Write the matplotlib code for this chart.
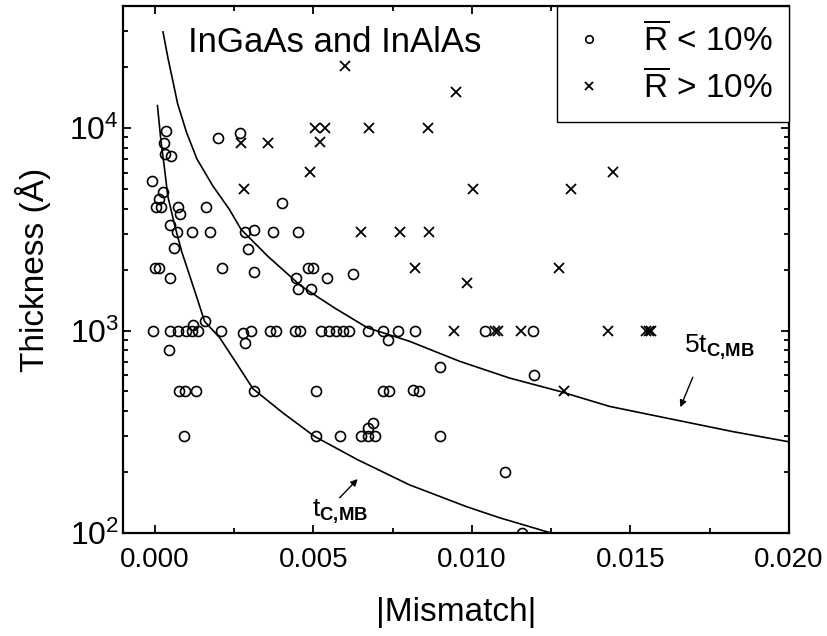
import numpy as np
import matplotlib
matplotlib.use('Agg')
import matplotlib.pyplot as plt
from matplotlib.ticker import MultipleLocator, FixedLocator, FormatStrFormatter

plt.rcParams['font.family'] = ['Liberation Sans', 'DejaVu Sans']
plt.rcParams['mathtext.fontset'] = 'custom'
plt.rcParams['mathtext.rm'] = 'Liberation Sans'
plt.rcParams['mathtext.it'] = 'Liberation Sans:italic'
plt.rcParams['mathtext.bf'] = 'Liberation Sans:bold'

# R < 10% samples (open circles)
low_x = [0.00037, 0.00028, 0.00032, 0.0005, 0.0020, 0.00268,
         -0.0001, 0.00026, 0.00014, 0.00005, 0.00021, 0.00074, 0.00081, 0.00163, 0.00047, 0.0040,
         0.0007, 0.00118, 0.00174, 0.00284, 0.00372, 0.00453, 0.00314,
         0.0006, 0.00295,
         0.0, 0.00014, 0.00213, 0.00482, 0.00498,
         0.00312, 0.00047, 0.00445, 0.00543, 0.00624, 0.00453, 0.00492,
         0.00157, 0.0012,
         -0.00005, 0.00047, 0.00073, 0.00098, 0.00117, 0.00135, 0.0021, 0.00305, 0.00362, 0.00382,
         0.00441, 0.00457, 0.00525, 0.00551, 0.00572, 0.00593, 0.00614, 0.00672, 0.0072, 0.00768,
         0.00822, 0.0104, 0.01192,
         0.00277, 0.00284, 0.00045, 0.00735,
         0.00078, 0.00094, 0.0013, 0.00314, 0.00508, 0.00721, 0.00739, 0.00814, 0.00833,
         0.00898, 0.01197,
         0.00091, 0.00508, 0.00585, 0.0065, 0.00671, 0.00694, 0.00898,
         0.00671, 0.00687, 0.01106, 0.01158]
low_y = [9700, 8400, 7400, 7300, 8900, 9400,
         5450, 4850, 4450, 4050, 4050, 4050, 3750, 4050, 3300, 4250,
         3050, 3050, 3050, 3050, 3050, 3050, 3140,
         2550, 2520,
         2040, 2040, 2040, 2040, 2040,
         1940, 1820, 1820, 1820, 1910, 1610, 1610,
         1110, 1060,
         1000, 1000, 1000, 1000, 1000, 1000, 1000, 1000, 1000, 1000,
         1000, 1000, 1000, 1000, 1000, 1000, 1000, 1000, 1000, 1000,
         1000, 1000, 1000,
         970, 870, 800, 900,
         500, 500, 500, 500, 500, 500, 500, 510, 500,
         660, 600,
         300, 300, 300, 300, 300, 300, 300,
         330, 350, 200, 100]

# R > 10% samples (crosses)
high_x = [0.00599, 0.0095, 0.00504, 0.00536, 0.00677, 0.00861, 0.00522,
          0.00273, 0.00357, 0.0049, 0.01444, 0.0028, 0.01005, 0.01313,
          0.00651, 0.00774, 0.00866, 0.00822, 0.01274, 0.00985,
          0.00945, 0.01072, 0.01082, 0.01155, 0.0143, 0.0155, 0.01558, 0.01565,
          0.01289]
high_y = [20300, 15000, 10000, 10000, 10000, 10000, 8550,
          8400, 8400, 6050, 6050, 5000, 5000, 5000,
          3050, 3050, 3050, 2040, 2040, 1720,
          1000, 1000, 1000, 1000, 1000, 1000, 1000, 1000,
          500]

# critical thickness curves
tc_x = [0.000085, 0.0002, 0.00031, 0.00041, 0.00062, 0.00085, 0.00109, 0.00135, 0.00157, 0.00205,
        0.00257, 0.0031, 0.00404, 0.00504, 0.0064, 0.00803, 0.00983, 0.01087, 0.0125]
tc_y = [12900, 8490, 6270, 4620, 3350, 2450, 1890, 1420, 1110, 920,
        692, 515, 392, 300, 230, 173, 135, 119, 100]
tc5_x = [0.00026, 0.00042, 0.00058, 0.00072, 0.001, 0.00133, 0.00183, 0.00235, 0.00272, 0.00356,
         0.00461, 0.00566, 0.00671, 0.00803, 0.00961, 0.01118, 0.01276, 0.01434, 0.01612,
         0.01822, 0.01995]
tc5_y = [29800, 22000, 16800, 13200, 9530, 7030, 5180, 3970, 3160, 2330,
         1660, 1295, 1031, 885, 705, 583, 501, 422, 370,
         317, 283]

fig = plt.figure(figsize=(8.28, 6.36), dpi=100)
ax = fig.add_axes([0.1486, 0.1619, 0.8043, 0.8286])

ax.plot(tc_x, tc_y, color='k', lw=1.2)
ax.plot(tc5_x, tc5_y, color='k', lw=1.2)
ax.plot(low_x, low_y, ls='none', marker='o', ms=7.2, mfc='none', mec='k', mew=1.2,
        label=r'$\overline{\mathrm{R}}$ < 10%')
ax.plot(high_x, high_y, ls='none', marker='x', ms=7.5, mec='k', mew=1.3,
        label=r'$\overline{\mathrm{R}}$ > 10%')

ax.set_yscale('log')
ax.set_xlim(-0.001, 0.020)
ax.set_ylim(100, 40000)
ax.xaxis.set_major_locator(MultipleLocator(0.005))
ax.xaxis.set_minor_locator(MultipleLocator(0.0025))
ax.xaxis.set_major_formatter(FormatStrFormatter('%.3f'))
ax.yaxis.set_major_locator(FixedLocator([100, 1000, 10000]))

ax.tick_params(which='both', direction='in', top=True, right=True, width=1.3)
ax.tick_params(which='major', length=6)
ax.tick_params(axis='x', which='major', pad=10, labelsize=20)
ax.tick_params(axis='y', which='major', pad=3, labelsize=23)
ax.tick_params(which='minor', length=3.5)
for s in ax.spines.values():
    s.set_linewidth(1.6)

ax.set_xlabel('|Mismatch|', fontsize=24, labelpad=17)
ax.set_ylabel('Thickness (Å)', fontsize=24, labelpad=13)

ax.text(0.0976, 0.913, 'InGaAs and InAlAs', transform=ax.transAxes, fontsize=25, va='baseline')

leg = ax.legend(loc='upper right', borderaxespad=0, fontsize=24, markerscale=0.75,
                fancybox=False, edgecolor='k', framealpha=1, handlelength=0.92,
                handletextpad=1.15, labelspacing=0.35, borderpad=0.5)
leg.get_frame().set_linewidth(1.0)

ax.annotate('', xy=(0.01654, 406), xytext=(0.0170, 605),
            arrowprops=dict(arrowstyle='-|>', color='k', lw=1.0, mutation_scale=10))
ax.text(0.0167, 778, r'5t$_{\mathbf{C{,}MB}}$', fontsize=19, va='baseline')
ax.annotate('', xy=(0.00646, 189), xytext=(0.00577, 146),
            arrowprops=dict(arrowstyle='-|>', color='k', lw=1.0, mutation_scale=10))
ax.text(0.00495, 120, r't$_{\mathbf{C{,}MB}}$', fontsize=19, va='baseline')

fig.savefig('out.png', dpi=100)
